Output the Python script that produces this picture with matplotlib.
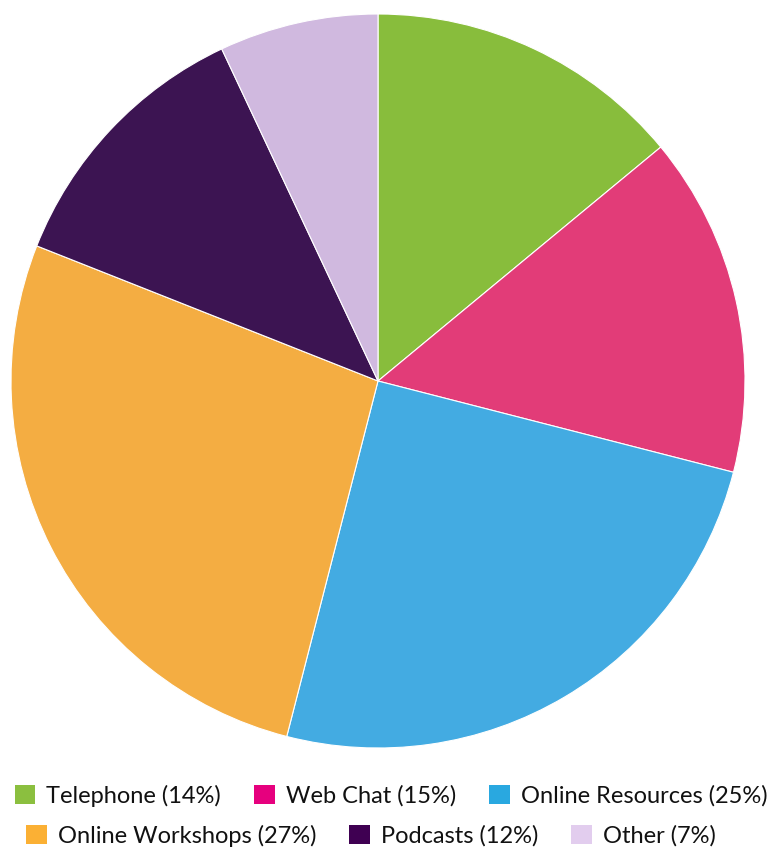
import matplotlib.pyplot as plt
from matplotlib.patches import Patch

plt.rcParams["font.family"] = ["Lato", "DejaVu Sans"]

labels = ["Telephone", "Web Chat", "Online Resources", "Online Workshops", "Podcasts", "Other"]
shares = [14, 15, 25, 27, 12, 7]
slice_colors = ["#88BD3C", "#E23C78", "#43ABE2", "#F4AD42", "#3C1452", "#D0B9DF"]
key_colors = ["#8BBF3F", "#E6007E", "#29A8E0", "#FBB034", "#3F0052", "#E2CDEE"]

W, H = 771, 851
fig = plt.figure(figsize=(W / 100, H / 100), dpi=100)

# pie centred at (378, 381) px with a 367 px radius
cx, cy, r = 378, 381, 367
ax = fig.add_axes([(cx - r) / W, (H - cy - r) / H, 2 * r / W, 2 * r / H])
ax.pie(shares, colors=slice_colors, startangle=90, counterclock=False,
       radius=1, wedgeprops=dict(edgecolor="white", linewidth=0.8))
ax.set_xlim(-1, 1)
ax.set_ylim(-1, 1)
ax.set_aspect("equal")
ax.axis("off")

handles = [Patch(facecolor=c, edgecolor="none") for c in key_colors]
texts = [f"{l} ({s}%)" for l, s in zip(labels, shares)]

# two centred legend rows under the pie
rows = [(0, 3, 391, 796), (3, 6, 371, 836)]
for a, b, x, y in rows:
    leg = fig.legend(handles[a:b], texts[a:b], ncol=3, loc="center",
                     bbox_to_anchor=(x / W, (H - y) / H), frameon=False,
                     fontsize=17, handlelength=0.87, handleheight=0.87,
                     handletextpad=0.47, columnspacing=1.4, borderpad=0)
    for t in leg.get_texts():
        t.set_color("#111111")

fig.savefig("out.png", dpi=100)
